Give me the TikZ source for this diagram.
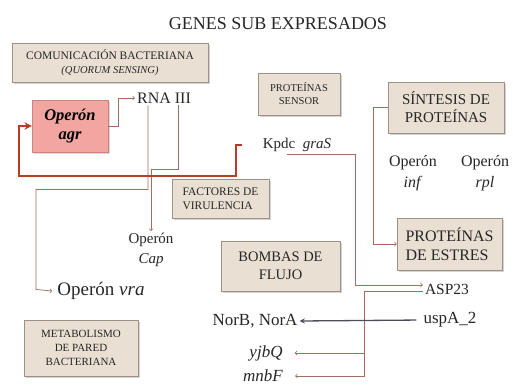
\documentclass[tikz,border=0pt]{standalone}
\usepackage{fontspec}
\setmainfont{Liberation Serif}
\usetikzlibrary{arrows, shadows, positioning}
\definecolor{boxfill}{HTML}{E9DFD3}
\definecolor{boxline}{HTML}{9C9184}
\definecolor{agrfill}{HTML}{F2A5A1}
\definecolor{agrline}{HTML}{C9857D}
\definecolor{linkline}{HTML}{9E6E5E}
\definecolor{redline}{HTML}{B83C26}
\definecolor{darkline}{HTML}{4C4D5C}
\tikzstyle{box} = [rectangle, draw = boxline, fill = boxfill, align = center, inner sep = 2pt, text = black!85, drop shadow = {shadow xshift = 1.5pt, shadow yshift = -1.5pt, opacity = 0.35}]
\tikzstyle{agrbox} = [rectangle, draw = agrline, fill = agrfill, align = center, minimum width = 76pt, minimum height = 52pt, font = \fontsize{16.5}{19}\selectfont\bfseries\itshape, drop shadow = {shadow xshift = 1.5pt, shadow yshift = -1.5pt, opacity = 0.3}]
\tikzstyle{gene} = [align = center, inner sep = 2pt, text = black!85]
\tikzstyle{arrow} = [linkline, line width = 0.75pt, ->, > = to]
\tikzstyle{redarrow} = [redline, line width = 2.2pt, ->, > = stealth]
\tikzstyle{darkarrow} = [darkline, line width = 1.3pt, ->, > = stealth]

\begin{document}
\begin{tikzpicture}[x = 1pt, y = -1pt]

\useasboundingbox (0, 0) rectangle (513, 386);

%NODES
\node (title) [gene, font = \fontsize{18}{20}\selectfont] at (278, 24) {GENES SUB EXPRESADOS};
\node (quorum) [box, minimum width = 196pt, minimum height = 39pt, font = \fontsize{11.5}{14}\selectfont] at (110, 62.5) {COMUNICACIÓN BACTERIANA \\ {\fontsize{10.5}{13}\selectfont\itshape (QUORUM SENSING)}};
\node (agr) [agrbox] at (70, 126) {Operón \\ agr};
\node (rna) [gene, font = \fontsize{16}{18}\selectfont] at (164, 98) {RNA III};
\node (sensor) [box, minimum width = 82pt, minimum height = 42pt, font = \fontsize{10.5}{13}\selectfont] at (299, 94) {PROTEÍNAS \\ SENSOR};
\node (kpdc) [gene, font = \fontsize{15}{17}\selectfont] at (297, 145) {Kpdc\ \ \textit{graS}};
\node (sintesis) [box, minimum width = 116pt, minimum height = 51pt, font = \fontsize{15}{18}\selectfont] at (446, 107.5) {SÍNTESIS DE \\ PROTEÍNAS};
\node (inf) [gene, font = \fontsize{16}{21}\selectfont] at (413, 173) {Operón \\ \textit{inf}};
\node (rpl) [gene, font = \fontsize{16}{21}\selectfont] at (485, 173) {Operón \\ \textit{rpl}};
\node (factores) [box, align = left, minimum width = 97pt, minimum height = 39pt, font = \fontsize{11.5}{14}\selectfont] at (220.5, 198.5) {FACTORES DE \\ VIRULENCIA};
\node (cap) [gene, font = \fontsize{15}{20}\selectfont] at (151, 250) {Operón \\ \textit{Cap}};
\node (estres) [box, align = left, minimum width = 105pt, minimum height = 52pt, font = \fontsize{16}{19}\selectfont] at (449.5, 244) {PROTEÍNAS \\ DE ESTRES};
\node (bombas) [box, minimum width = 119pt, minimum height = 50pt, font = \fontsize{14.5}{18}\selectfont] at (280.5, 266) {BOMBAS DE \\ FLUJO};
\node (vra) [gene, font = \fontsize{19}{21}\selectfont] at (101, 291) {Operón \textit{vra}};
\node (asp) [gene, font = \fontsize{15.5}{18}\selectfont] at (447, 289) {ASP23};
\node (usp) [gene, font = \fontsize{17}{19}\selectfont] at (450, 320) {uspA\_2};
\node (nor) [gene, font = \fontsize{17}{19}\selectfont] at (255, 321) {NorB, NorA};
\node (yjbq) [gene, font = \fontsize{17}{19}\selectfont\itshape] at (266, 353) {yjbQ};
\node (mnbf) [gene, font = \fontsize{17}{19}\selectfont\itshape] at (263, 376) {mnbF};
\node (pared) [box, minimum width = 114pt, minimum height = 56pt, font = \fontsize{11}{14}\selectfont] at (81, 348) {METABOLISMO \\ DE PARED \\ BACTERIANA};

%ARROWS
\draw [arrow] (agr.east) -- ++(10, 0) |- (rna.west);
\draw [arrow] ([xshift = -16pt]rna.south) -- ++(0, 84) -| ++(-112, 100) -- ([xshift = -3pt]vra.west);
\draw [arrow] ([xshift = 14pt]rna.south) -- ++(0, 64) -| (cap.north);
\draw [redarrow] ([xshift = -19pt]kpdc.west) -- ++(-6, 0) -- ++(0, 31) -- ++(-217, 0) |- (agr.west);
\draw [arrow] ([xshift = -10pt]kpdc.south) -- ++(68, 0) |- ([yshift = 4pt]asp.west);
\draw [arrow] (sintesis.west) -- ++(-14, 0) |- (estres.west);
\draw [arrow, shorten > = 10pt] ([yshift = -2pt]asp.west) -- ++(-58, 0) |- (yjbq.east);
\draw [arrow, shorten > = 10pt] ([yshift = -2pt]asp.west) -- ++(-58, 0) |- (mnbf.east);
\draw [darkarrow, shorten < = 5pt] (usp.west) -- (nor.east);

\end{tikzpicture}
\end{document}
